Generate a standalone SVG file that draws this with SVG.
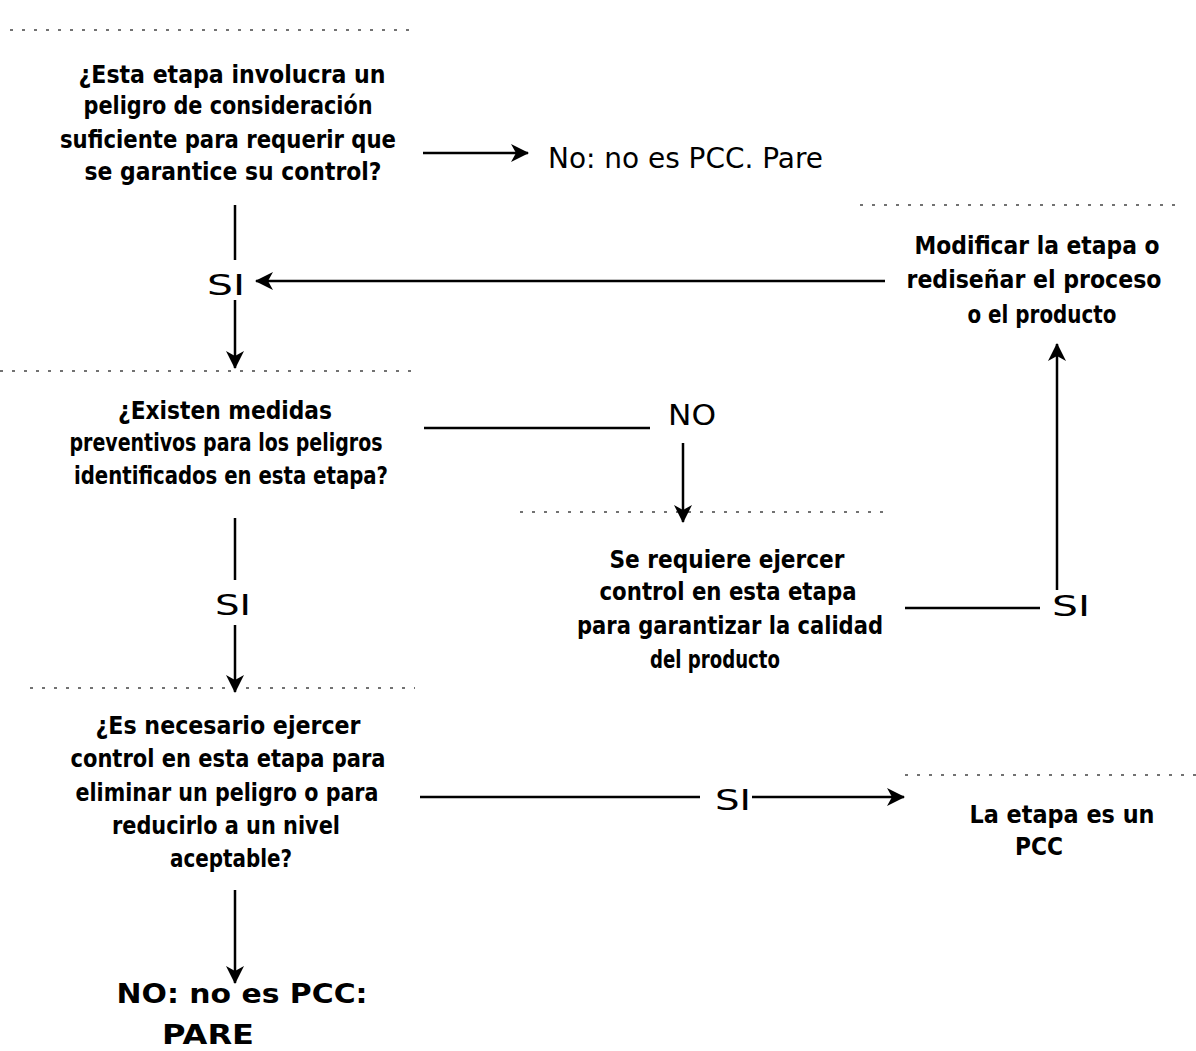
<svg xmlns="http://www.w3.org/2000/svg" width="1196" height="1051" viewBox="0 0 1196 1051">
<style>
.t{font-family:"DejaVu Sans","Liberation Sans",sans-serif;font-weight:bold;font-size:24px;fill:#000;text-anchor:middle}
.l{font-family:"DejaVu Sans","Liberation Sans",sans-serif;font-size:28px;fill:#000}
.e{stroke:#000;stroke-width:2.5;fill:none}
.d{stroke:#444;stroke-width:1.5;stroke-dasharray:3 9;fill:none}
</style>
<defs>
<marker id="ahb" markerWidth="18" markerHeight="18" refX="17" refY="9" orient="auto" markerUnits="userSpaceOnUse" viewBox="0 0 18 18">
<path d="M0,0 L18,9 L0,18 L5,9 Z" fill="#000"/>
</marker>
</defs>
<rect width="1196" height="1051" fill="#fff"/>

<g id="remnants">
<line class="d" x1="10" y1="30" x2="410" y2="30"/>
<line class="d" x1="860" y1="205" x2="1175" y2="205"/>
<line class="d" x1="0" y1="371" x2="412" y2="371"/>
<line class="d" x1="520" y1="512" x2="890" y2="512"/>
<line class="d" x1="30" y1="688" x2="415" y2="688"/>
<line class="d" x1="905" y1="775" x2="1196" y2="775"/>
</g>

<g id="n1">
<text class="t" x="232" y="83" textLength="307" lengthAdjust="spacingAndGlyphs">¿Esta etapa involucra un</text>
<text class="t" x="228" y="114" textLength="289" lengthAdjust="spacingAndGlyphs">peligro de consideración</text>
<text class="t" x="228" y="148" textLength="336" lengthAdjust="spacingAndGlyphs">suficiente para requerir que</text>
<text class="t" x="233" y="180" textLength="297" lengthAdjust="spacingAndGlyphs">se garantice su control?</text>
</g>
<g id="n1no">
<text class="l" x="548" y="168" textLength="275" lengthAdjust="spacingAndGlyphs">No: no es PCC. Pare</text>
</g>
<g id="si1"><text class="l" x="207" y="295" textLength="38" lengthAdjust="spacingAndGlyphs">SI</text></g>

<g id="n2">
<text class="t" x="225" y="419" textLength="214" lengthAdjust="spacingAndGlyphs">¿Existen medidas</text>
<text class="t" x="226" y="451" textLength="313" lengthAdjust="spacingAndGlyphs">preventivos para los peligros</text>
<text class="t" x="231" y="484" textLength="314" lengthAdjust="spacingAndGlyphs">identificados en esta etapa?</text>
</g>
<g id="no2"><text class="l" x="668" y="425" textLength="48" lengthAdjust="spacingAndGlyphs">NO</text></g>

<g id="n3">
<text class="t" x="727" y="568" textLength="235" lengthAdjust="spacingAndGlyphs">Se requiere ejercer</text>
<text class="t" x="728" y="600" textLength="257" lengthAdjust="spacingAndGlyphs">control en esta etapa</text>
<text class="t" x="730" y="634" textLength="306" lengthAdjust="spacingAndGlyphs">para garantizar la calidad</text>
<text class="t" x="715" y="668" textLength="130" lengthAdjust="spacingAndGlyphs">del producto</text>
</g>
<g id="si3"><text class="l" x="1052" y="616" textLength="38" lengthAdjust="spacingAndGlyphs">SI</text></g>

<g id="n4">
<text class="t" x="1037" y="254" textLength="245" lengthAdjust="spacingAndGlyphs">Modificar la etapa o</text>
<text class="t" x="1034" y="288" textLength="255" lengthAdjust="spacingAndGlyphs">rediseñar el proceso</text>
<text class="t" x="1042" y="323" textLength="149" lengthAdjust="spacingAndGlyphs">o el producto</text>
</g>
<g id="si2"><text class="l" x="215" y="615" textLength="36" lengthAdjust="spacingAndGlyphs">SI</text></g>

<g id="n5">
<text class="t" x="228" y="734" textLength="265" lengthAdjust="spacingAndGlyphs">¿Es necesario ejercer</text>
<text class="t" x="228" y="767" textLength="315" lengthAdjust="spacingAndGlyphs">control en esta etapa para</text>
<text class="t" x="227" y="801" textLength="303" lengthAdjust="spacingAndGlyphs">eliminar un peligro o para</text>
<text class="t" x="226" y="834" textLength="228" lengthAdjust="spacingAndGlyphs">reducirlo a un nivel</text>
<text class="t" x="231" y="867" textLength="122" lengthAdjust="spacingAndGlyphs">aceptable?</text>
</g>
<g id="si4"><text class="l" x="715" y="810" textLength="36" lengthAdjust="spacingAndGlyphs">SI</text></g>

<g id="n6">
<text class="t" x="1062" y="823" textLength="185" lengthAdjust="spacingAndGlyphs">La etapa es un</text>
<text class="t" x="1039" y="855" textLength="48" lengthAdjust="spacingAndGlyphs">PCC</text>
</g>

<g id="n7">
<text class="t" x="242" y="1003" style="font-size:27px" textLength="251" lengthAdjust="spacingAndGlyphs">NO: no es  PCC:</text>
<text class="t" x="208" y="1044" style="font-size:27px" textLength="92" lengthAdjust="spacingAndGlyphs">PARE</text>
</g>

<g id="connectors">
<line class="e" x1="423" y1="153" x2="528" y2="153" marker-end="url(#ahb)"/>
<line class="e" x1="235" y1="205" x2="235" y2="260"/>
<line class="e" x1="885" y1="281" x2="256" y2="281" marker-end="url(#ahb)"/>
<line class="e" x1="235" y1="300" x2="235" y2="368" marker-end="url(#ahb)"/>
<line class="e" x1="424" y1="428" x2="650" y2="428"/>
<line class="e" x1="683" y1="443" x2="683" y2="522" marker-end="url(#ahb)"/>
<line class="e" x1="905" y1="608" x2="1040" y2="608"/>
<line class="e" x1="1057" y1="590" x2="1057" y2="344" marker-end="url(#ahb)"/>
<line class="e" x1="235" y1="518" x2="235" y2="580"/>
<line class="e" x1="235" y1="625" x2="235" y2="692" marker-end="url(#ahb)"/>
<line class="e" x1="420" y1="797" x2="700" y2="797"/>
<line class="e" x1="752" y1="797" x2="904" y2="797" marker-end="url(#ahb)"/>
<line class="e" x1="235" y1="890" x2="235" y2="983" marker-end="url(#ahb)"/>
</g>
</svg>
